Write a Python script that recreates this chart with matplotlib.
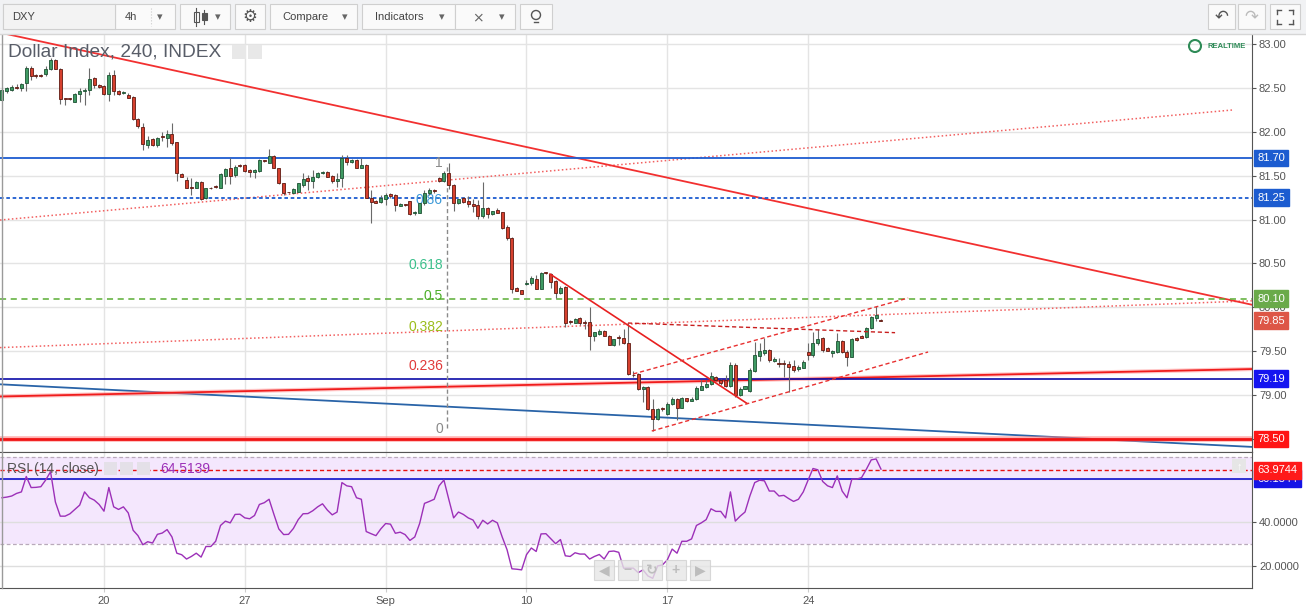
import matplotlib
matplotlib.use("Agg")
import matplotlib.pyplot as plt
import matplotlib.transforms as mtransforms
from matplotlib.patches import Rectangle, Circle
import numpy as np

plt.rcParams['font.family'] = ['Liberation Sans', 'DejaVu Sans']

# ---- 4h DXY candles ----
opens = [82.36, 82.47, 82.48, 82.51, 82.50, 82.56, 82.73, 82.645, 82.645, 82.655,
         82.72, 82.82, 82.72, 82.38, 82.38, 82.34, 82.43, 82.46, 82.48, 82.61,
         82.53, 82.52, 82.43, 82.65, 82.465, 82.44, 82.42, 82.40, 82.15, 82.05,
         81.85, 81.92, 81.85, 81.95, 81.93, 81.975, 81.88, 81.525, 81.455, 81.365,
         81.365, 81.425, 81.25, 81.36, 81.38, 81.365, 81.50, 81.59, 81.508, 81.62,
         81.622, 81.565, 81.546, 81.558, 81.672, 81.65, 81.725, 81.588, 81.413, 81.312,
         81.307, 81.318, 81.394, 81.478, 81.444, 81.482, 81.527, 81.546, 81.497, 81.444,
         81.47, 81.698, 81.66, 81.68, 81.592, 81.622, 81.243, 81.212, 81.20, 81.24,
         81.296, 81.28, 81.16, 81.17, 81.212, 81.07, 81.08, 81.186, 81.30, 81.33,
         81.47, 81.444, 81.527, 81.394, 81.193, 81.242, 81.212, 81.178, 81.166, 81.041,
         81.129, 81.06, 81.11, 81.087, 80.92, 80.787, 80.225, 80.198, 80.27, 80.274,
         80.32, 80.214, 80.40, 80.377, 80.30, 80.168, 80.236, 79.84, 79.826, 79.876,
         79.83, 79.83, 79.678, 79.70, 79.732, 79.67, 79.572, 79.655, 79.652, 79.591,
         79.232, 79.241, 79.067, 79.09, 78.842, 78.725, 78.85, 78.782, 78.90, 78.953,
         78.858, 78.964, 78.938, 78.953, 79.06, 79.097, 79.127, 79.203, 79.173, 79.173,
         79.105, 79.344, 79.002, 79.074, 79.052, 79.279, 79.45, 79.484, 79.515, 79.39,
         79.37, 79.357, 79.35, 79.33, 79.294, 79.313, 79.488, 79.458, 79.59, 79.647,
         79.54, 79.476, 79.488, 79.613, 79.496, 79.439, 79.647, 79.674, 79.659, 79.761,
         79.883, 79.86]
highs = [82.50, 82.51, 82.53, 82.54, 82.56, 82.75, 82.75, 82.66, 82.66, 82.75,
         82.84, 82.83, 82.73, 82.385, 82.39, 82.44, 82.50, 82.50, 82.73, 82.62,
         82.54, 82.53, 82.685, 82.70, 82.48, 82.46, 82.44, 82.41, 82.16, 82.10,
         81.95, 81.93, 81.945, 82.00, 82.02, 82.10, 81.88, 81.53, 81.49, 81.47,
         81.44, 81.44, 81.365, 81.37, 81.39, 81.53, 81.59, 81.70, 81.62, 81.63,
         81.634, 81.577, 81.58, 81.687, 81.68, 81.80, 81.736, 81.59, 81.42, 81.32,
         81.36, 81.42, 81.527, 81.508, 81.565, 81.54, 81.55, 81.558, 81.508, 81.527,
         81.736, 81.736, 81.69, 81.69, 81.698, 81.63, 81.338, 81.22, 81.28, 81.30,
         81.307, 81.29, 81.186, 81.175, 81.216, 81.097, 81.19, 81.338, 81.357, 81.345,
         81.49, 81.55, 81.649, 81.41, 81.24, 81.26, 81.27, 81.24, 81.22, 81.432,
         81.14, 81.10, 81.13, 81.09, 80.94, 80.80, 80.236, 80.20, 80.31, 80.358,
         80.37, 80.407, 80.404, 80.39, 80.31, 80.244, 80.244, 79.857, 79.883, 79.895,
         79.857, 80.01, 79.72, 79.75, 79.74, 79.68, 79.645, 79.68, 79.75, 79.82,
         79.27, 79.256, 79.105, 79.10, 78.953, 78.85, 78.862, 78.92, 78.975, 78.97,
         78.975, 78.972, 78.983, 79.105, 79.172, 79.172, 79.268, 79.218, 79.18, 79.23,
         79.382, 79.363, 79.097, 79.11, 79.306, 79.61, 79.60, 79.647, 79.522, 79.431,
         79.42, 79.40, 79.393, 79.40, 79.344, 79.40, 79.59, 79.72, 79.75, 79.659,
         79.55, 79.514, 79.704, 79.628, 79.515, 79.647, 79.666, 79.68, 79.78, 79.90,
         80.016, 79.87]
lows = [82.35, 82.44, 82.47, 82.49, 82.46, 82.46, 82.59, 82.61, 82.62, 82.64,
        82.70, 82.71, 82.32, 82.30, 82.36, 82.335, 82.34, 82.31, 82.42, 82.50,
        82.50, 82.42, 82.355, 82.42, 82.42, 82.43, 82.38, 82.13, 82.04, 81.79,
        81.81, 81.84, 81.83, 81.89, 81.83, 81.85, 81.44, 81.48, 81.36, 81.28,
        81.355, 81.22, 81.24, 81.35, 81.36, 81.36, 81.40, 81.40, 81.49, 81.60,
        81.546, 81.49, 81.47, 81.546, 81.66, 81.64, 81.584, 81.40, 81.28, 81.30,
        81.30, 81.31, 81.375, 81.34, 81.357, 81.47, 81.52, 81.482, 81.413, 81.375,
        81.375, 81.622, 81.65, 81.584, 81.584, 81.243, 80.958, 81.19, 81.185, 81.167,
        81.243, 81.10, 81.15, 81.16, 81.053, 81.053, 81.075, 81.167, 81.28, 81.307,
        81.43, 81.43, 81.345, 81.10, 81.18, 81.193, 81.148, 81.09, 81.007, 81.022,
        81.022, 81.055, 81.07, 80.89, 80.768, 80.168, 80.19, 80.149, 80.25, 80.255,
        80.206, 80.206, 80.38, 80.225, 80.104, 80.153, 79.781, 79.811, 79.819, 79.80,
        79.75, 79.515, 79.62, 79.69, 79.67, 79.57, 79.565, 79.57, 79.58, 79.23,
        79.21, 79.06, 78.926, 78.83, 78.59, 78.717, 78.82, 78.775, 78.888, 78.717,
        78.85, 78.926, 78.93, 78.945, 79.058, 79.085, 79.116, 79.165, 79.116, 79.09,
        79.09, 78.983, 78.99, 79.065, 79.04, 79.268, 79.393, 79.457, 79.382, 79.382,
        79.325, 79.21, 79.04, 79.268, 79.279, 79.306, 79.40, 79.439, 79.57, 79.495,
        79.50, 79.431, 79.476, 79.476, 79.33, 79.431, 79.62, 79.65, 79.647, 79.75,
        79.848, 79.84]
closes = [82.48, 82.50, 82.51, 82.50, 82.55, 82.73, 82.63, 82.64, 82.64, 82.72,
          82.82, 82.72, 82.37, 82.375, 82.375, 82.43, 82.465, 82.48, 82.60, 82.53,
          82.51, 82.43, 82.65, 82.465, 82.43, 82.45, 82.39, 82.15, 82.07, 81.86,
          81.91, 81.85, 81.925, 81.94, 81.975, 81.87, 81.53, 81.49, 81.365, 81.36,
          81.425, 81.24, 81.355, 81.355, 81.375, 81.52, 81.575, 81.50, 81.603, 81.615,
          81.558, 81.546, 81.565, 81.68, 81.668, 81.725, 81.592, 81.413, 81.307, 81.31,
          81.35, 81.413, 81.463, 81.444, 81.489, 81.535, 81.546, 81.489, 81.444, 81.463,
          81.698, 81.66, 81.68, 81.592, 81.622, 81.243, 81.205, 81.194, 81.243, 81.28,
          81.273, 81.167, 81.18, 81.167, 81.064, 81.09, 81.186, 81.307, 81.337, 81.326,
          81.444, 81.527, 81.394, 81.186, 81.231, 81.205, 81.174, 81.155, 81.041, 81.129,
          81.06, 81.098, 81.08, 80.908, 80.787, 80.206, 80.191, 80.149, 80.275, 80.339,
          80.214, 80.388, 80.396, 80.293, 80.168, 80.225, 79.826, 79.838, 79.864, 79.826,
          79.826, 79.675, 79.72, 79.732, 79.678, 79.576, 79.64, 79.652, 79.591, 79.241,
          79.225, 79.067, 79.097, 78.839, 78.725, 78.842, 78.84, 78.90, 78.957, 78.858,
          78.964, 78.938, 78.96, 79.078, 79.10, 79.127, 79.218, 79.173, 79.135, 79.105,
          79.344, 79.002, 79.067, 79.10, 79.287, 79.458, 79.503, 79.515, 79.40, 79.408,
          79.355, 79.355, 79.324, 79.287, 79.324, 79.382, 79.458, 79.60, 79.636, 79.514,
          79.507, 79.503, 79.613, 79.488, 79.439, 79.636, 79.628, 79.655, 79.761, 79.886,
          79.913, 79.85]

# RSI(14, close), one value per candle
rsi = [51.3, 51.6, 52.1, 53.3, 54.0, 61.1, 56.0, 56.1, 56.4, 59.5,
       63.3, 49.3, 42.8, 42.8, 43.9, 45.9, 47.9, 54.0, 51.3, 50.2,
       48.2, 45.1, 56.0, 47.1, 45.9, 47.1, 44.3, 36.3, 33.8, 29.6,
       31.0, 30.4, 34.4, 35.0, 36.6, 33.2, 25.7, 25.0, 23.0, 24.2,
       25.7, 23.9, 28.8, 28.8, 31.2, 38.5, 40.5, 39.7, 43.6, 43.7,
       42.0, 41.6, 43.1, 48.2, 49.0, 50.6, 43.6, 36.9, 34.3, 34.4,
       37.1, 41.2, 43.9, 44.0, 45.3, 47.1, 48.5, 45.6, 43.4, 44.7,
       58.3, 56.8, 56.4, 51.3, 50.6, 35.7, 34.7, 33.8, 36.9, 39.4,
       39.1, 34.9, 35.4, 34.3, 31.6, 33.2, 39.4, 48.7, 49.6, 50.6,
       56.8, 59.5, 50.6, 42.0, 44.7, 43.6, 42.0, 41.0, 37.2, 40.9,
       39.2, 40.9, 39.7, 33.2, 27.3, 18.5, 18.3, 18.0, 25.0, 28.1,
       26.5, 34.6, 34.7, 32.4, 30.1, 32.0, 24.5, 24.2, 25.9, 25.3,
       25.3, 23.0, 24.2, 25.1, 23.0, 26.5, 26.7, 26.1, 18.8, 18.8,
       18.8, 16.7, 18.0, 15.2, 14.1, 19.8, 20.3, 22.6, 27.6, 25.7,
       31.2, 31.2, 32.3, 38.5, 39.7, 41.2, 46.2, 45.0, 45.0, 42.0,
       54.0, 40.5, 42.8, 44.7, 52.1, 58.3, 59.4, 59.1, 54.4, 54.4,
       52.1, 52.4, 50.9, 49.6, 50.6, 54.0, 59.5, 64.8, 64.2, 58.8,
       56.8, 56.0, 61.4, 54.4, 51.3, 59.9, 59.9, 60.6, 64.5, 68.8,
       69.2, 64.51]

date_pos = [21, 50, 79, 108, 137, 166]
date_labels = ['20', '27', 'Sep', '10', '17', '24']
price_ticks = [78.5, 79.0, 79.5, 80.0, 80.5, 81.0, 81.5, 82.0, 82.5, 83.0]
rsi_ticks = [20, 40]

# horizontal levels and tags
lvl_high = 81.70
lvl_high_dot = 81.25
lvl_half = 80.10
lvl_last = 79.85
lvl_mid = 79.19
lvl_low = 78.50
rsi_red = 63.9744
rsi_blue = 60.1344

# drawn trend lines as (bar, price) end points
trend_top = [(-0.41, 83.13), (257.4, 80.03)]
dot_upper = [(-0.41, 80.995), (253.3, 82.248)]
dot_lower = [(-0.41, 79.542), (257.4, 80.075)]
blue_slope = [(-0.41, 79.124), (257.4, 78.411)]
red_rise = [(-0.41, 78.985), (257.4, 79.298)]
red_fall = [(112.85, 80.38), (153.36, 78.908)]
chan_up = [(130.0, 79.242), (186.6, 80.107)]
chan_low = [(133.8, 78.592), (190.7, 79.492)]
chan_mid = [(128.9, 79.822), (183.9, 79.712)]

# fibonacci retracement
fib_bar = 91.7
fib_p0 = 78.615
fib_p1 = 81.645
fib_levels = [0, 0.236, 0.382, 0.5, 0.618, 0.86, 1]
fib_texts = ['0', '0.236', '0.382', '0.5', '0.618', '0.86', '1']
fib_colors = ['#8a8a8a', '#e03a3a', '#9cbd1c', '#4caf28', '#3cc08c', '#3d9ad8', '#8a8a8a']

W, H = 1306, 607
fig = plt.figure(figsize=(W / 100, H / 100), dpi=100)
fig.patch.set_facecolor('white')


def px_rect(x0, y0, x1, y1):
    return [x0 / W, 1 - y1 / H, (x1 - x0) / W, (y1 - y0) / H]


ax = fig.add_axes(px_rect(0, 35, 1252, 452))
rax = fig.add_axes(px_rect(0, 452, 1252, 588), sharex=ax)

n = len(closes)
idx = np.arange(n)
o = np.array(opens)
c = np.array(closes)
up = c >= o
lo = np.minimum(o, c)
hh = np.maximum(np.abs(c - o), 0.008)

ax.set_xlim(-0.41, 257.4)
ax.set_ylim(78.353, 83.1025)
for a in (ax, rax):
    for x in date_pos:
        a.axvline(x, color='#e4e4e4', lw=1, zorder=0)
for p in price_ticks:
    ax.axhline(p, color='#e4e4e4', lw=1, zorder=0)


# long drawings behind candles
def seg(pts, **kw):
    ax.plot([pts[0][0], pts[1][0]], [pts[0][1], pts[1][1]], **kw)


seg(dot_upper, color='#f26060', lw=1.1, ls=(0, (1, 1.6)), zorder=1)
seg(dot_lower, color='#f26060', lw=1.1, ls=(0, (1, 1.6)), zorder=1)
seg(blue_slope, color='#2a64a8', lw=1.3, zorder=1)
seg(red_rise, color='#ff9090', lw=3.0, alpha=0.5, zorder=1)
seg(red_rise, color='#f01c1c', lw=1.3, zorder=1)
seg(trend_top, color='#f23030', lw=1.3, zorder=1)

ax.axhline(lvl_high, color='#1c5cd0', lw=1.3, zorder=1)
ax.axhline(lvl_high_dot, color='#1c5cd0', lw=1.3, ls=(0, (2, 1.5)), zorder=1)
ax.axhline(lvl_half, color='#5aae34', lw=1.1, ls=(0, (4, 3)), zorder=1)
ax.axhline(lvl_mid, color='#0c0ca8', lw=1.2, zorder=1)
ax.axhline(lvl_low, color='#ff8080', lw=4.0, alpha=0.6, zorder=1)
ax.axhline(lvl_low, color='#f01414', lw=2.0, zorder=1)

# fibonacci
ax.plot([fib_bar, fib_bar], [fib_p0 + 0.01, fib_p1 - 0.01], color='#8a8a8a', lw=1,
        ls=(0, (3, 2)), zorder=1)
for lv, t, col in zip(fib_levels, fib_texts, fib_colors):
    ax.text(fib_bar - 0.9, fib_p0 + lv * (fib_p1 - fib_p0), t, color=col, fontsize=10,
            ha='right', va='center', zorder=1)

# candles
ax.vlines(idx, lows, highs, color='#6a6a6a', lw=0.8, zorder=3)
ax.bar(idx[up], hh[up], bottom=lo[up], width=0.62, color='#3f9a63',
       edgecolor='#1d5233', lw=0.6, zorder=4)
ax.bar(idx[~up], hh[~up], bottom=lo[~up], width=0.62, color='#d6402e',
       edgecolor='#5e1a12', lw=0.6, zorder=4)

# short drawings on top
seg(red_fall, color='#e82020', lw=1.2, zorder=5)
seg(chan_up, color='#e83030', lw=1.0, ls=(0, (3, 2)), zorder=5)
seg(chan_low, color='#e83030', lw=1.0, ls=(0, (3, 2)), zorder=5)
seg(chan_mid, color='#c81e1e', lw=1.0, ls=(0, (3, 2)), zorder=5)

# axes styling main
ax.yaxis.tick_right()
ax.set_yticks(price_ticks)
ax.set_yticklabels(['%.2f' % p for p in price_ticks])
ax.tick_params(axis='y', labelsize=8, colors='#555555', length=3, pad=2)
ax.tick_params(axis='x', length=0, labelbottom=False)
for s in ('left', 'top'):
    ax.spines[s].set_visible(False)
ax.spines['right'].set_color('#555555')
ax.spines['bottom'].set_color('#555555')

ytr = mtransforms.blended_transform_factory(ax.transAxes, ax.transData)


def tag(a, tr, y, text, col):
    a.text(1257.3 / 1252, y, text, transform=tr, ha='left', va='center', fontsize=8,
           color='white', clip_on=False, zorder=20,
           bbox=dict(boxstyle='square,pad=0.3', fc=col, ec=col))


tag(ax, ytr, lvl_high, '81.70', '#1c5cd0')
tag(ax, ytr, lvl_high_dot, '81.25', '#1c5cd0')
tag(ax, ytr, lvl_half, '80.10', '#6aaa4a')
tag(ax, ytr, lvl_last, '79.85', '#dd5646')
tag(ax, ytr, lvl_mid, '79.19', '#1414f0')
tag(ax, ytr, lvl_low, '78.50', '#ff1414')

# RSI panel
rax.set_ylim(9.63, 72.42)
rax.axhspan(30, 70, color='#f4e7fd', zorder=0, lw=0)
for v in (20, 40, 60):
    rax.axhline(v, color='#dedede', lw=1, zorder=0.5)
rax.axhline(70, color='#b9aabb', lw=0.9, ls=(0, (3, 2)), zorder=1)
rax.axhline(30, color='#b9aabb', lw=0.9, ls=(0, (3, 2)), zorder=1)
rax.axhline(rsi_blue, color='#1010cc', lw=1.2, zorder=2)
rax.axhline(rsi_red, color='#e81010', lw=1.0, ls=(0, (3, 2)), zorder=2)
rax.plot(idx, rsi, color='#9c30b8', lw=1.0, zorder=3)
rax.yaxis.tick_right()
rax.set_yticks(rsi_ticks)
rax.set_yticklabels(['%.4f' % v for v in rsi_ticks])
rax.tick_params(axis='y', labelsize=8, colors='#555555', length=3, pad=2)
rax.set_xticks(date_pos)
rax.set_xticklabels(date_labels)
rax.tick_params(axis='x', labelsize=8, labelcolor='#555555', color='#cccccc',
                length=3, pad=2.5)
rax.spines['left'].set_visible(False)
for s in ('top', 'right', 'bottom'):
    rax.spines[s].set_color('#555555')
rtr = mtransforms.blended_transform_factory(rax.transAxes, rax.transData)
tag(rax, rtr, rsi_blue, '60.1344', '#1414e6')
tag(rax, rtr, rsi_red, '63.9744', '#ff1a1a')

# chrome drawn in pixel space
ui = fig.add_axes([0, 0, 1, 1])
ui.set_xlim(0, W)
ui.set_ylim(H, 0)
ui.axis('off')
ui.set_zorder(10)

ui.plot([1.5, 1.5], [35, 588], color='#9a9a9a', lw=1)
ui.add_patch(Rectangle((0, 0), W, 34, fc='#f1f2f4', ec='none'))
ui.plot([0, W], [34, 34], color='#d6d6d6', lw=1)
boxes = [(3, 115), (115, 175), (180, 230), (235, 265), (270, 357), (362, 455),
         (455, 515), (520, 552), (1208, 1235), (1238, 1265), (1270, 1300)]
for x0, x1 in boxes:
    ui.add_patch(Rectangle((x0, 4), x1 - x0, 25, fc='#fafafa', ec='#cfcfcf', lw=0.8))
ui.add_patch(Rectangle((3, 4), 112, 25, fc='#f3f3f3', ec='#cfcfcf', lw=0.8))
tb = dict(fontsize=8, color='#444444', va='center')
ui.text(12, 17, 'DXY', **tb)
ui.text(125, 17, '4h', **tb)
ui.plot([151, 151], [8, 26], color='#cccccc', lw=0.8, ls=':')
for xa in (160, 218, 345, 442, 502):
    ui.text(xa, 17.5, '\u25be', fontsize=8, color='#666666', ha='center', va='center')
ui.text(282, 17, 'Compare', **tb)
ui.text(375, 17, 'Indicators', **tb)
# candle icon
ui.plot([196, 196], [8, 26], color='#555555', lw=0.8)
ui.add_patch(Rectangle((193.5, 12), 5, 10, fc='white', ec='#555555', lw=0.8))
ui.plot([204, 204], [10, 24], color='#555555', lw=0.8)
ui.add_patch(Rectangle((201.5, 13), 5, 7, fc='#555555', ec='#555555', lw=0.8))
ui.text(250, 17, '\u2699', fontsize=12, color='#555555', ha='center', va='center')
ui.text(478, 17, '\u2a2f', fontsize=10, color='#666666', ha='center', va='center')
ui.add_patch(Circle((536, 15), 4.5, fc='none', ec='#555555', lw=1))
ui.plot([534, 538], [22, 22], color='#555555', lw=1)
ui.text(1221.5, 17, '\u21b6', fontsize=12, color='#555555', ha='center', va='center')
ui.text(1251.5, 17, '\u21b7', fontsize=12, color='#bbbbbb', ha='center', va='center')
for cx, cy, dx, dy in ((1277, 10, 1, 1), (1293, 10, -1, 1), (1277, 24, 1, -1), (1293, 24, -1, -1)):
    ui.plot([cx, cx + 4 * dx], [cy, cy], color='#555555', lw=1)
    ui.plot([cx, cx], [cy, cy + 4 * dy], color='#555555', lw=1)

# titles
ui.text(8, 52, 'Dollar Index, 240, INDEX', fontsize=13.8, color='#585d68', va='center')
for x0 in (232, 248):
    ui.add_patch(Rectangle((x0, 45), 14, 14, fc='#e8e8e8', ec='none'))
ui.add_patch(Circle((1195, 46), 6, fc='none', ec='#2e8b57', lw=1.5))
ui.text(1207, 46.5, 'REALTIME', fontsize=5.5, color='#2e8b57', va='center',
        fontweight='bold')

ui.text(7, 469, 'RSI (14, close)', fontsize=10, color='#555555', va='center')
for x0 in (104, 120, 137):
    ui.add_patch(Rectangle((x0, 462), 13, 13, fc='#e4e0e8', ec='none'))
ui.text(160, 469, '64.5139', fontsize=10, color='#9c30b8', va='center')

# navigation buttons
nav = ['\u25c0', '\u2212', '\u21bb', '+', '\u25b6']
for k, g in enumerate(nav):
    x0 = 594 + 24 * k
    ui.add_patch(Rectangle((x0, 560), 20, 20, fc='#e6e6e6', ec='#d0d0d0', lw=0.8, alpha=0.8))
    ui.text(x0 + 10, 570, g, fontsize=10, color='#bdbdbd', ha='center', va='center',
            fontweight='bold')
ui.add_patch(Rectangle((1232, 459), 14, 14, fc='#e6e6e6', ec='none'))
ui.text(1239, 466, '\u2191', fontsize=8, color='white', ha='center', va='center')

fig.savefig('out.png', dpi=100, facecolor='white')
